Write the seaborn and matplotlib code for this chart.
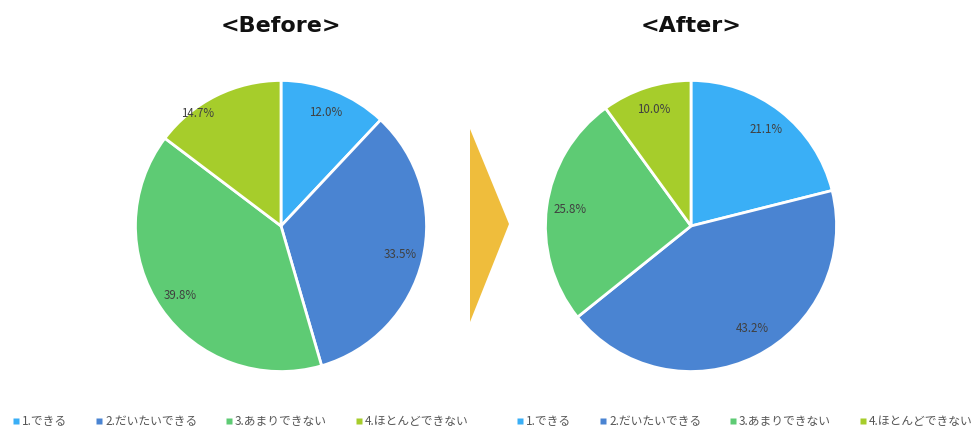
import matplotlib
matplotlib.use("Agg")
import matplotlib.pyplot as plt
from matplotlib.lines import Line2D
from matplotlib.patches import Polygon
import seaborn as sns

# Survey answers and shares (%)
categories = ["1.できる", "2.だいたいできる", "3.あまりできない", "4.ほとんどできない"]
before_values = [12.0, 33.5, 39.8, 14.7]
after_values = [21.1, 43.2, 25.8, 10.0]
titles = ["<Before>", "<After>"]

sns.set_theme(style="white")
plt.rcParams["font.family"] = ["Noto Sans CJK JP", "DejaVu Sans"]

palette = sns.color_palette(["#3aaff6", "#4a84d2", "#5ecb74", "#a6cd2b"])

W, H = 976, 432
fig = plt.figure(figsize=(W / 100, H / 100), dpi=100)
fig.patch.set_facecolor("white")

R = 147
centers = [(281, 226), (691, 226)]


def draw_pie(cx, cy, values, title, label_shift=None):
    ax = fig.add_axes([(cx - R) / W, (H - cy - R) / H, 2 * R / W, 2 * R / H])
    _, _, autotexts = ax.pie(values, colors=palette, startangle=90, counterclock=False,
                             autopct="%.1f%%", pctdistance=0.84,
                             wedgeprops=dict(edgecolor="white", linewidth=2),
                             textprops=dict(color="#404040", fontsize=8.3))
    # nudge individual percentage labels (in axes data units)
    if label_shift:
        for i, (dx, dy) in label_shift.items():
            x, y = autotexts[i].get_position()
            autotexts[i].set_position((x + dx, y + dy))
    ax.set_xlim(-1.01, 1.01)
    ax.set_ylim(-1.01, 1.01)
    ax.set_aspect("equal")
    ax.axis("off")
    fig.text(cx / W, 1 - 26 / H, title, ha="center", va="center",
             fontsize=16, fontweight="bold", color="#111111",
             family=["DejaVu Sans"])


draw_pie(*centers[0], before_values, titles[0], label_shift={3: (-0.2, 0.02)})
draw_pie(*centers[1], after_values, titles[1], label_shift={1: (0.05, 0.05)})

# Arrow between the two pies
arrow_ax = fig.add_axes([0, 0, 1, 1], facecolor="none")
arrow_ax.set_xlim(0, W)
arrow_ax.set_ylim(H, 0)
arrow_ax.axis("off")
arrow_ax.add_patch(Polygon([(470, 129), (509, 224), (470, 322)],
                           closed=True, facecolor="#efbd3c", edgecolor="none"))

handles = [Line2D([], [], marker="s", linestyle="none", markersize=4,
                  markerfacecolor=c, markeredgecolor="none") for c in palette]

for cx_leg in (240 / W, 744 / W):
    fig.legend(handles, categories, loc="center", bbox_to_anchor=(cx_leg, 1 - 422 / H),
               ncol=4, frameon=False, fontsize=8.5, handletextpad=0.1,
               columnspacing=2.3, handlelength=0.8, labelcolor="#555555")

fig.savefig("out.png", dpi=100, facecolor="white")
